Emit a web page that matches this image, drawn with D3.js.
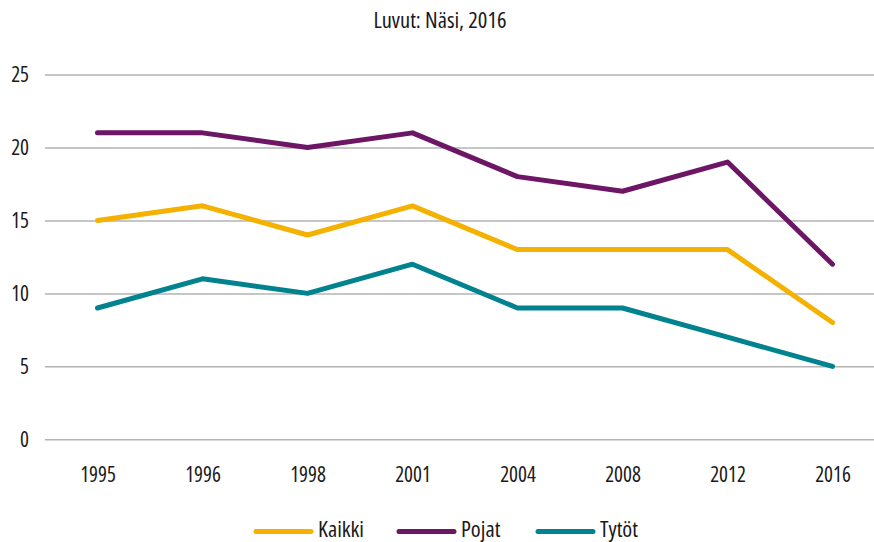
<!DOCTYPE html>
<html><head><meta charset="utf-8">
<script src="https://cdn.jsdelivr.net/npm/d3@7"></script>
<style>
body{margin:0;background:#fff;}
svg text{font-family:"Open Sans",sans-serif !important;font-stretch:condensed;fill:#1a1a1a;}
</style></head>
<body><svg id="c" width="874" height="542"></svg>
<script>
const years = ["1995","1996","1998","2001","2004","2008","2012","2016"];
const kaikki = [15,16,14,16,13,13,13,8];
const pojat = [21,21,20,21,18,17,19,12];
const tytot = [9,11,10,12,9,9,7,5];
const yTicks = [0,5,10,15,20,25];
const seriesNames = ["Kaikki","Pojat","Tytöt"];
const colors = ["#F5B100","#6C1665","#00838F"];
const seriesValues = [kaikki,pojat,tytot];

const svg = d3.select("#c");
const x = d3.scalePoint().domain(years).range([45,885]).padding(0.5);
const y = d3.scaleLinear().domain([0,25]).range([439.3,74.5]);

svg.append("text").attr("x",440).attr("y",28).attr("text-anchor","middle")
  .style("font-size","22.5px").text("Luvut: Näsi, 2016");

// grid
const yAxis = d3.axisLeft(y).tickValues(yTicks).tickSize(-829).tickPadding(16);
const gy = svg.append("g").attr("transform","translate(45,0)").call(yAxis);
gy.select(".domain").remove();
gy.selectAll(".tick line").attr("stroke","#b3b3b3").attr("stroke-width",1.5);
gy.selectAll(".tick text").style("font-size","21px").attr("fill","#1a1a1a");

const xAxis = d3.axisBottom(x).tickSize(0).tickPadding(0);
const gx = svg.append("g").attr("transform","translate(0,467)").call(xAxis);
gx.select(".domain").remove();
gx.selectAll(".tick text").style("font-size","21px").attr("fill","#1a1a1a");

const line = d3.line().x((d,i)=>x(years[i])).y(d=>y(d));
seriesValues.forEach((vals,k)=>{
  svg.append("path").datum(vals).attr("d",line).attr("fill","none")
    .attr("stroke",colors[k]).attr("stroke-width",5)
    .attr("stroke-linecap","round").attr("stroke-linejoin","round");
});

// legend
const legX = [256,399,538];
seriesNames.forEach((n,k)=>{
  const g = svg.append("g").attr("transform",`translate(${legX[k]},531.5)`);
  g.append("line").attr("x1",0).attr("x2",55).attr("y1",0).attr("y2",0)
    .attr("stroke",colors[k]).attr("stroke-width",5).attr("stroke-linecap","round");
  g.append("text").attr("x",62).attr("y",5).style("font-size","22.5px").text(n);
});
</script></body></html>
